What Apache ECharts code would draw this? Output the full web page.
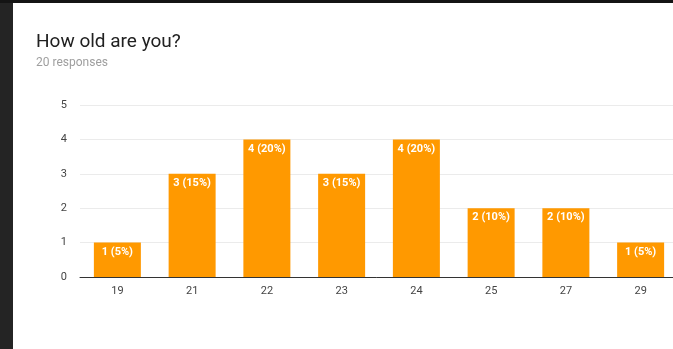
<!DOCTYPE html>
<html>
<head>
<meta charset="utf-8">
<script src="https://cdn.jsdelivr.net/npm/echarts@6/dist/echarts.min.js"></script>
<style>
  html, body { margin: 0; padding: 0; background: #fff; }
  #wrap { position: relative; width: 673px; height: 349px; overflow: hidden; }
  #chart { position: absolute; left: 0; top: 0; width: 673px; height: 349px; }
  .edge-left { position: absolute; left: 0; top: 0; width: 13px; height: 349px; background: #242424; }
  .edge-top { position: absolute; left: 0; top: 0; width: 673px; height: 3px; background: #141414; }
</style>
</head>
<body>
<div id="wrap">
  <div id="chart"></div>
  <div class="edge-left"></div>
  <div class="edge-top"></div>
</div>
<script>
// Age question summary
const ages = ['19', '21', '22', '23', '24', '25', '27', '29'];
const counts = [1, 3, 4, 3, 4, 2, 2, 1];
const totalResponses = 20;
const yTicks = [0, 1, 2, 3, 4, 5];

const chart = echarts.init(document.getElementById('chart'), null, { renderer: 'canvas' });

chart.setOption({
  animation: false,
  backgroundColor: '#fff',
  textStyle: { fontFamily: 'Roboto, Arial, sans-serif' },
  title: {
    text: 'How old are you?',
    subtext: totalResponses + ' responses',
    left: 36,
    top: 33,
    padding: 0,
    itemGap: 5,
    textStyle: { fontSize: 19, fontWeight: 'normal', color: '#212121', fontFamily: 'Roboto, Arial, sans-serif' },
    subtextStyle: { fontSize: 12, color: '#9e9e9e', fontFamily: 'Roboto, Arial, sans-serif' }
  },
  // the plot runs a little past the right edge of the view
  grid: { left: 80, top: 105, width: 598, height: 172, containLabel: false, outerBoundsMode: 'none' },
  xAxis: {
    type: 'category',
    data: ages,
    axisLine: { lineStyle: { color: '#333', width: 1 } },
    axisTick: { show: false },
    axisLabel: { color: '#444', fontSize: 11, margin: 9 }
  },
  yAxis: {
    type: 'value',
    min: yTicks[0],
    max: yTicks[yTicks.length - 1],
    interval: 1,
    axisLine: { show: false },
    axisTick: { show: false },
    axisLabel: { color: '#444', fontSize: 11, margin: 13 },
    splitLine: { lineStyle: { color: '#ebebeb' } }
  },
  series: [{
    type: 'bar',
    data: counts,
    barWidth: 47,
    itemStyle: { color: '#ff9900' },
    label: {
      show: true,
      position: 'insideTop',
      distance: 4,
      color: '#fff',
      fontSize: 11,
      fontWeight: 'bold',
      formatter: p => p.value + ' (' + Math.round(p.value / totalResponses * 100) + '%)'
    }
  }]
});
</script>
</body>
</html>
